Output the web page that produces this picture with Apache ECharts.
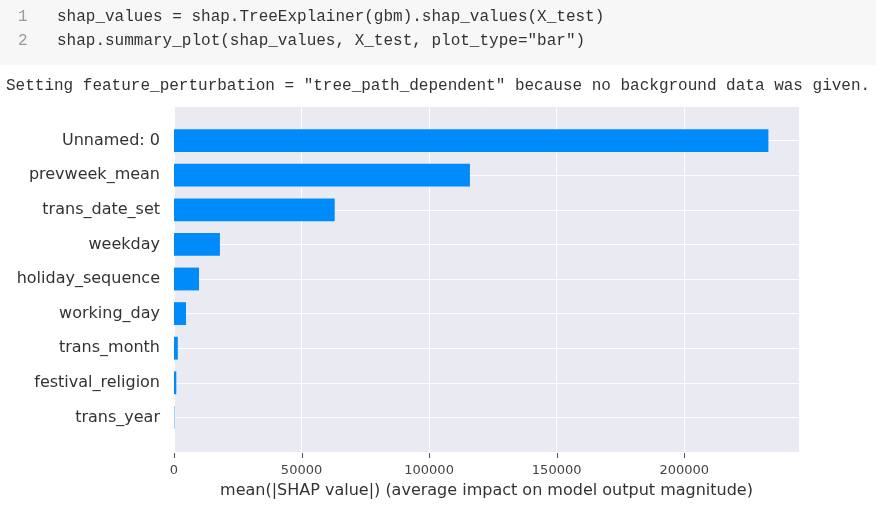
<!DOCTYPE html>
<html>
<head>
<meta charset="utf-8">
<script src="https://cdn.jsdelivr.net/npm/echarts@6/dist/echarts.min.js"></script>
<style>
html,body{margin:0;padding:0;background:#ffffff;}
#chart{width:876px;height:517px;}
</style>
</head>
<body>
<div id="chart"></div>
<script>
// ---- data ----
const features = ["Unnamed: 0", "prevweek_mean", "trans_date_set", "weekday", "holiday_sequence", "working_day", "trans_month", "festival_religion", "trans_year"];
const meanAbsShap = [233000, 116000, 63000, 18000, 9800, 4700, 1500, 900, 150];
const xTicks = [0, 50000, 100000, 150000, 200000];
const codeLines = ['shap_values = shap.TreeExplainer(gbm).shap_values(X_test)', 'shap.summary_plot(shap_values, X_test, plot_type="bar")'];
const outputText = 'Setting feature_perturbation = "tree_path_dependent" because no background data was given.';
const xAxisTitle = 'mean(|SHAP value|) (average impact on model output magnitude)';

const featureIdx = features.map((f, i) => i);
const seriesData = meanAbsShap.map((v, i) => [v, i]);
const yBottom = 9;
const tickData = xTicks.map(v => [v, yBottom]);

const chart = echarts.init(document.getElementById('chart'), null, {renderer: 'canvas'});
const mono = '"Liberation Mono", "DejaVu Sans Mono", monospace';
const sans = '"DejaVu Sans", sans-serif';

const graphics = [
  {type: 'rect', left: 0, top: 0, shape: {width: 876, height: 65}, style: {fill: '#f7f7f7'}, silent: true, z: -10}
];
codeLines.forEach((line, i) => {
  graphics.push({type: 'text', left: 18, top: 9 + i * 24, style: {text: String(i + 1), font: '16px ' + mono, fill: '#999999'}});
  graphics.push({type: 'text', left: 57, top: 9 + i * 24, style: {text: line, font: '16px ' + mono, fill: '#333333'}});
});
graphics.push({type: 'text', left: 6, top: 78, style: {text: outputText, font: '16px ' + mono, fill: '#333333'}});

chart.setOption({
  animation: false,
  backgroundColor: '#ffffff',
  graphic: graphics,
  grid: {left: 174, top: 106, width: 625, height: 346, show: true, backgroundColor: '#eaeaf2', borderWidth: 0},
  xAxis: {
    type: 'value', min: 0, max: 245000, interval: 50000, position: 'bottom',
    axisLine: {show: false},
    axisTick: {show: false},
    axisLabel: {show: true, showMaxLabel: false, formatter: v => String(v), color: '#444444', fontSize: 13, fontFamily: sans, margin: 12},
    splitLine: {show: true, lineStyle: {color: '#ffffff', width: 1}},
    name: xAxisTitle, nameLocation: 'middle', nameGap: 31,
    nameTextStyle: {color: '#333333', fontSize: 16, fontFamily: sans}
  },
  yAxis: {
    type: 'value', min: -1, max: yBottom, interval: 1, inverse: true,
    axisLine: {show: false},
    axisTick: {show: false},
    axisLabel: {customValues: featureIdx, formatter: v => features[v] || '', color: '#333333', fontSize: 16, fontFamily: sans, margin: 14},
    splitLine: {show: true, lineStyle: {color: '#ffffff', width: 1}}
  },
  series: [{
    type: 'custom',
    data: seriesData,
    encode: {x: 0, y: 1},
    renderItem: function (params, api) {
      const v = api.value(0), i = api.value(1);
      const s = api.coord([0, i]);
      const e = api.coord([v, i]);
      const h = api.size([0, 1])[1] * 0.66;
      return {type: 'rect', shape: {x: s[0], y: s[1] - h / 2, width: e[0] - s[0], height: h}, style: {fill: '#008bfb'}};
    }
  }, {
    type: 'custom',
    clip: false,
    silent: true,
    data: tickData,
    encode: {x: 0, y: 1},
    renderItem: function (params, api) {
      const p = api.coord([api.value(0), api.value(1)]);
      const x = Math.round(p[0]) + 0.5;
      return {type: 'line', shape: {x1: x, y1: p[1] + 1, x2: x, y2: p[1] + 6}, style: {stroke: '#555555', lineWidth: 1}};
    }
  }]
});
</script>
</body>
</html>
